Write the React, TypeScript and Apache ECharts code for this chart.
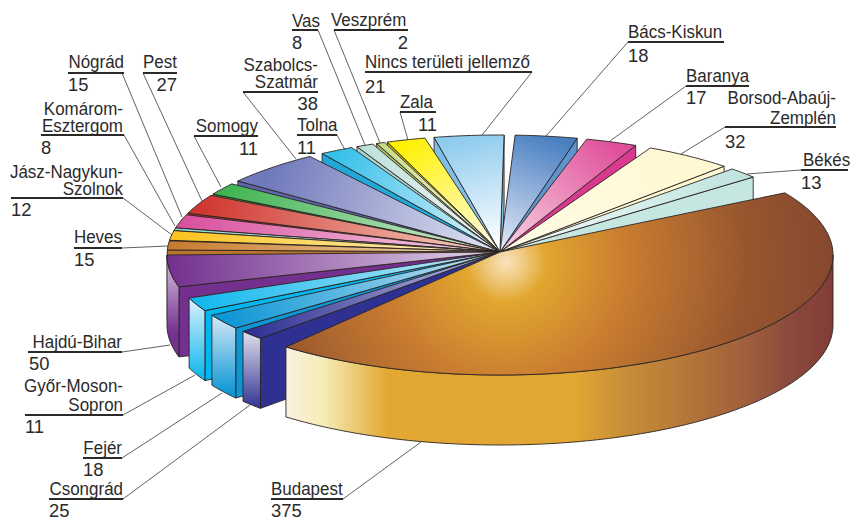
import React, { useEffect, useRef } from "react";
import * as echarts from "echarts";

// ---- data (clockwise from the top of the pie) ----
const regions = ["Bács-Kiskun","Baranya","Borsod-Abaúj-Zemplén","Békés","Budapest","Csongrád","Fejér","Győr-Moson-Sopron","Hajdú-Bihar","Heves","Jász-Nagykun-Szolnok","Komárom-Esztergom","Nógrád","Pest","Somogy","Szabolcs-Szatmár","Tolna","Vas","Veszprém","Zala","Nincs területi jellemző"];
const counts = [18,17,32,13,375,25,18,11,50,15,12,8,15,27,11,38,11,8,2,11,21];

// ---- styling: rim colour, colour near the centre, wall colour ----
const rimColors = ["#4a80c2","#e0509a","#fff8d2","#bfe3df","#a9623a","#2e3192","#0c96d5","#12b8ee","#74308f","#c77a2f","#fcc31e","#8fd3cd","#da4f9e","#d0352f","#3eb350","#7079bb","#35c0ea","#c0e0dc","#c8d98a","#fff000","#8ecbee"];
const coreColors = ["#dfe6f5","#f7cfe0","#fffce6","#f4fbf9","#f6dcae","#b9bae0","#c0e2f2","#c4e9f8","#dfcfe6","#f6dfb5","#fff2c8","#d9f0ee","#f5d5e6","#f5cfc0","#d6ecd6","#e0e2f2","#dff2fa","#eef7f6","#f2f6de","#fffde6","#ffffff"];
const wallColors = ["#5f93cc","#d93a8e","#fff8d2","#c6e6e2","#843f3a","#2e3192","#0c96d5","#00b7ef","#74308f","#b9742d","#e8ad1e","#7fc8c2","#c8408e","#b02c2a","#2f9e45","#5d66ab","#1fa8d8","#a9d2cd","#a8bb60","#c9b900","#7fbfe6"];
const rimTopColors = ["","","","","","#e4e0ee","#d6e9f7","#dcf2fc","#dcc8e4","","","","","","","","","","","",""];

// ---- drawing geometry ----
const apex = [500, 252];
const rimCenter = [500, 255];
const rx = 333, ry = 120, wallH = 70;
// cumulative count -> angle on the drawn ellipse (the drawing's perspective is not uniform)
const warp = [[0,88.4],[80,35.5],[455,-130],[498,-151],[509,-159],[559,-180],[636,-210],[685,-235.2],[738,-271.6]];
// trims in degrees [start, end] of the gaps between the exploded slices
const trims = [[1,0.1],[1.6,0.7],[2.1,3.6],[-1.7,5],[4.3,0],[6,1.7],[0.3,1.1],[1.4,0],[5.6,0],[2.4,-0.9],[1.2,-1.2],[1.2,0.6],[-0.6,-0.1],[0.9,0.2],[0.5,-0.7],[2.4,0],[2.5,-0.8],[1.8,0.7],[0,-0.1],[0.6,0.2],[1.4,0.9]];

// ---- labels: name lines, value, anchor/align, underline, leader ----
type Lbl = { lines: string[]; ys: number[]; x: number; align: string; val: string; vx: number; vy: number; vAlign: string; ul: number[]; lead: number[] };
const L = (lines: string[], ys: number[], x: number, align: string, val: string, vx: number, vy: number, vAlign: string, ul: number[], lead: number[]): Lbl => ({ lines, ys, x, align, val, vx, vy, vAlign, ul, lead });
const labels: Lbl[] = [
  L(["Vas"],[21],292,"left","8",292,43,"left",[292,30,318,30],[318,30,365,145]),
  L(["Veszprém"],[20],331,"left","2",408,43,"right",[334,30,408,30],[334,30,380,143]),
  L(["Nincs területi jellemző"],[62],365,"left","21",365,87,"left",[365,72,532,72],[532,72,482,135]),
  L(["Zala"],[102],400,"left","11",437,125,"right",[400,112,436,112],[400,112,408,140]),
  L(["Tolna"],[125],297,"left","11",297,148,"left",[297,135,337,135],[337,135,345,150]),
  L(["Szabolcs-","Szatmár"],[65,82],318,"right","38",318,104,"right",[243,92,318,92],[243,92,296,159]),
  L(["Somogy"],[126],258,"right","11",258,149,"right",[194,136,258,136],[194,136,221,187]),
  L(["Pest"],[62],177,"right","27",177,85,"right",[143,73,177,73],[143,73,202,201]),
  L(["Nógrád"],[62],124,"right","15",68,85,"left",[68,73,124,73],[122,73,182,217]),
  L(["Komárom-","Esztergom"],[109,126],123,"right","8",41,148,"left",[41,135,124,135],[124,135,175,226]),
  L(["Jász-Nagykun-","Szolnok"],[172,189],123,"right","12",11,210,"left",[11,198,123,198],[123,198,172,235]),
  L(["Heves"],[237],122,"right","15",74,260,"left",[74,248,122,248],[122,248,168,246]),
  L(["Hajdú-Bihar"],[342],122,"right","50",29,364,"left",[28,352,122,352],[122,352,170,345]),
  L(["Győr-Moson-","Sopron"],[386,405],123,"right","11",25,427,"left",[25,415,123,415],[123,415,195,375]),
  L(["Fejér"],[448],122,"right","18",83,470,"left",[83,458,122,458],[122,458,222,393]),
  L(["Csongrád"],[489],123,"right","25",49,511.5,"left",[49,499,123,499],[123,499,250,405]),
  L(["Budapest"],[489],271,"left","375",271,511.5,"left",[271,499,343,499],[343,499,421,442]),
  L(["Bács-Kiskun"],[32],628,"left","18",628,56,"left",[628,42,724,42],[628,42,546,136]),
  L(["Baranya"],[76],686,"left","17",686,98,"left",[686,86,749,86],[686,86,610,141]),
  L(["Borsod-Abaúj-","Zemplén"],[98,118],836,"right","32",725,142,"left",[725,127,836,127],[725,127,681,154]),
  L(["Békés"],[160],803,"left","13",801,183,"left",[801,170,848,170],[801,170,747,174]),
];

const FONT = '"Liberation Sans", Arial, sans-serif';
const FS = 17.5;
const NAME_SCALE = 0.97;
const VALUE_SCALE = 1.05;
const INK = "#2b2a29";
const EDGE = "#2a2523";

const warpAngle = (c: number) => {
  for (let k = 1; k < warp.length; k++) {
    if (c <= warp[k][0]) {
      const [c0, t0] = warp[k - 1], [c1, t1] = warp[k];
      return t0 + ((c - c0) / (c1 - c0)) * (t1 - t0);
    }
  }
  return warp[warp.length - 1][1];
};
const rad = (d: number) => (d * Math.PI) / 180;
const rimPt = (t: number, dy = 0) => [rimCenter[0] + rx * Math.cos(rad(t)), rimCenter[1] - ry * Math.sin(rad(t)) + dy];
const arcPts = (a: number, b: number, dy = 0) => {
  const n = Math.max(2, Math.ceil(Math.abs(a - b)));
  const out: number[][] = [];
  for (let k = 0; k <= n; k++) out.push(rimPt(a + ((b - a) * k) / n, dy));
  return out;
};
const cums: number[] = [];
counts.reduce((s, v, i) => ((cums[i] = s), s + v), 0);
const sliceAngles = (i: number) => [warpAngle(cums[i]) - trims[i][0], warpAngle(cums[i] + counts[i]) + trims[i][1]];
const grad = (x: number, y: number, x2: number, y2: number, stops: [number, string][]) => ({
  type: "linear", x, y, x2, y2, global: true, colorStops: stops.map(([offset, color]) => ({ offset, color })),
});

const BUDAPEST = regions.indexOf("Budapest");
const budapestTop = {
  type: "radial", x: 506, y: 262, r: 335, global: true,
  colorStops: [[0,"#f8e2bf"],[0.05,"#f0cc85"],[0.12,"#e2a62f"],[0.36,"#c97d30"],[0.72,"#98562f"],[1,"#84462f"]].map(([offset, color]) => ({ offset, color })),
};
const budapestWall = grad(286, 0, 833, 0, [[0,"#fbf1e2"],[0.07,"#f5ebb5"],[0.186,"#e2a832"],[0.53,"#e2a632"],[0.61,"#c99038"],[0.71,"#b97b38"],[0.84,"#a05f3c"],[0.92,"#8a4a3c"],[1,"#823c38"]]);

const renderSlice = (_: any, api: any) => {
  const i = api.value(0);
  const [a, b] = sliceAngles(i);
  const children: any[] = [];
  const line = { stroke: EDGE, lineWidth: 0.9, lineJoin: "round" };
  const radial = (t: number) => {
    const p = rimPt(t);
    children.push({ type: "polygon", shape: { points: [p, [p[0], p[1] + wallH], [apex[0], apex[1] + wallH], apex] }, style: { fill: wallColors[i], ...line } });
  };
  // walls facing the viewer: the radial side, then the curved outer side
  if (Math.cos(rad(a)) < 0) radial(a);
  if (Math.cos(rad(b)) > 0) radial(b);
  const fa = Math.min(a, 0), fb = Math.max(b, -180);
  if (fa > fb) {
    const top = arcPts(fa, fb), bot = arcPts(fb, fa, wallH);
    const yT = Math.min(...top.map((p) => p[1]));
    const fill = i === BUDAPEST ? budapestWall : grad(0, yT, 0, yT + wallH + 8, [[0, rimTopColors[i] || coreColors[i]], [1, rimColors[i]]]);
    children.push({ type: "polygon", shape: { points: [...top, ...bot] }, style: { fill, ...line } });
  }
  const mid = rimPt((a + b) / 2);
  const fill = i === BUDAPEST ? budapestTop : grad(mid[0], mid[1], apex[0], apex[1], [[0, rimColors[i]], [0.95, coreColors[i]], [1, coreColors[i]]]);
  children.push({ type: "polygon", shape: { points: [apex, ...arcPts(a, b)] }, style: { fill, ...line } });
  return { type: "group", children };
};

const depth = (i: number) => {
  const [a, b] = sliceAngles(i);
  return Math.sin(rad((a + b) / 2));
};
const paintOrder = counts.map((_, i) => i).sort((p, q) => (p === BUDAPEST ? 1 : q === BUDAPEST ? -1 : depth(q) - depth(p)));

const labelGraphics = () => {
  const out: any[] = [];
  const txt = (text: string, x: number, y: number, textAlign: string, scaleX: number) => ({
    type: "text", silent: true, z: 10, x, y, scaleX,
    style: { text, x: 0, y: 0, textAlign, textVerticalAlign: "middle", fill: INK, fontFamily: FONT, fontSize: FS },
  });
  labels.forEach((l) => {
    out.push({ type: "line", silent: true, z: 9, shape: { x1: l.lead[0], y1: l.lead[1], x2: l.lead[2], y2: l.lead[3] }, style: { stroke: "#3a3836", lineWidth: 0.8 } });
    out.push({ type: "line", silent: true, z: 10, shape: { x1: l.ul[0], y1: l.ul[1], x2: l.ul[2], y2: l.ul[3] }, style: { stroke: "#2b2a29", lineWidth: 2 } });
    l.lines.forEach((s, k) => out.push(txt(s, l.x, l.ys[k], l.align, NAME_SCALE)));
    out.push(txt(l.val, l.vx, l.vy, l.vAlign, VALUE_SCALE));
  });
  return out;
};

export default function App() {
  const ref = useRef<HTMLDivElement>(null);
  useEffect(() => {
    const chart = echarts.init(ref.current!, undefined, { renderer: "svg" });
    chart.setOption({
      animation: false,
      backgroundColor: "#ffffff",
      series: [{
        type: "custom",
        coordinateSystem: "none",
        silent: true,
        animation: false,
        data: paintOrder.map((i) => ({ name: regions[i], value: [i, counts[i]] })),
        renderItem: renderSlice,
      }],
      graphic: { elements: labelGraphics() },
    });
    return () => chart.dispose();
  }, []);
  return <div ref={ref} style={{ position: "absolute", left: 0, top: 0, width: 851, height: 520 }} />;
}
